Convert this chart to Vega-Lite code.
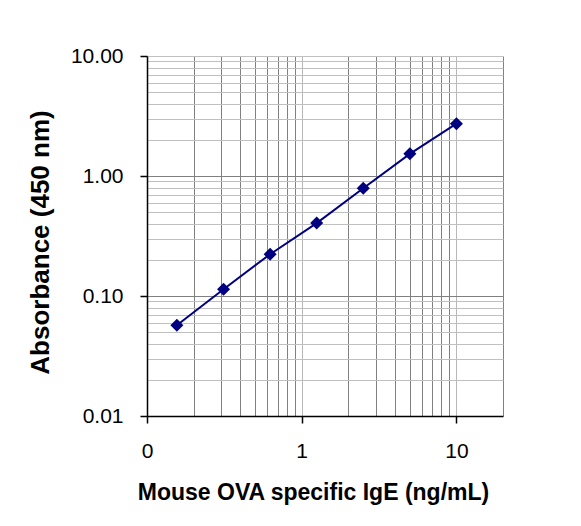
{
  "$schema": "https://vega.github.io/schema/vega-lite/v6.json",
  "width": 356,
  "height": 360,
  "autosize": {"type": "none"},
  "padding": {"left": 147, "top": 56, "right": 78, "bottom": 110},
  "background": "white",
  "config": {
    "view": {"stroke": null},
    "font": "Liberation Sans",
    "axis": {
      "labelFont": "Liberation Sans",
      "titleFont": "Liberation Sans",
      "labelColor": "black",
      "titleColor": "black",
      "domainColor": "black",
      "domainWidth": 1.5,
      "tickColor": "black",
      "tickWidth": 1.5,
      "tickSize": 7,
      "gridWidth": 1,
      "gridOpacity": 1
    }
  },
  "data": {
    "values": [
      {"conc": 0.156, "abs": 0.057},
      {"conc": 0.3125, "abs": 0.114},
      {"conc": 0.625, "abs": 0.223},
      {"conc": 1.25, "abs": 0.405},
      {"conc": 2.5, "abs": 0.79},
      {"conc": 5, "abs": 1.53},
      {"conc": 10, "abs": 2.73}
    ]
  },
  "encoding": {
    "x": {
      "field": "conc",
      "type": "quantitative",
      "scale": {"type": "log", "domain": [0.1, 20], "nice": false, "zero": false},
      "axis": {
        "title": "Mouse OVA specific IgE (ng/mL)",
        "titleFontSize": 23,
        "titleFontWeight": "bold",
        "titlePadding": 20,
        "titleX": 166,
        "values": [0.1, 0.2, 0.3, 0.4, 0.5, 0.6, 0.7, 0.8, 0.9, 1, 2, 3, 4, 5, 6, 7, 8, 9, 10, 20],
        "labelExpr": "datum.value == 0.1 ? '0' : (datum.value == 1 ? '1' : (datum.value == 10 ? '10' : ''))",
        "labelFontSize": 21,
        "labelPadding": 17,
        "labelOverlap": false,
        "labelFlush": false,
        "grid": true,
        "gridColor": {
          "condition": {"test": "datum.value == 1 || datum.value == 10", "value": "#b8b8b8"},
          "value": "#808080"
        },
        "tickOpacity": {
          "condition": {"test": "datum.value == 0.1 || datum.value == 1 || datum.value == 10", "value": 1},
          "value": 0
        }
      }
    },
    "y": {
      "field": "abs",
      "type": "quantitative",
      "scale": {"type": "log", "domain": [0.01, 10], "nice": false, "zero": false},
      "axis": {
        "title": "Absorbance (450 nm)",
        "titleFontSize": 26,
        "titleFontWeight": "bold",
        "titlePadding": 17,
        "titleY": 186,
        "values": [0.01, 0.02, 0.03, 0.04, 0.05, 0.06, 0.07, 0.08, 0.09, 0.1, 0.2, 0.3, 0.4, 0.5, 0.6, 0.7, 0.8, 0.9, 1, 2, 3, 4, 5, 6, 7, 8, 9, 10],
        "labelExpr": "(datum.value == 0.01 || datum.value == 0.1 || datum.value == 1 || datum.value == 10) ? format(datum.value, '.2f') : ''",
        "labelFontSize": 21,
        "labelPadding": 17,
        "labelOverlap": false,
        "labelFlush": false,
        "grid": true,
        "gridColor": {
          "condition": {"test": "datum.value == 0.1 || datum.value == 1", "value": "#808080"},
          "value": "#c0c0c0"
        },
        "tickOpacity": {
          "condition": {"test": "datum.value == 0.01 || datum.value == 0.1 || datum.value == 1 || datum.value == 10", "value": 1},
          "value": 0
        }
      }
    }
  },
  "layer": [
    {"mark": {"type": "line", "color": "#000080", "strokeWidth": 2}},
    {"mark": {"type": "point", "shape": "diamond", "filled": true, "size": 170, "color": "#000080", "opacity": 1}}
  ]
}
